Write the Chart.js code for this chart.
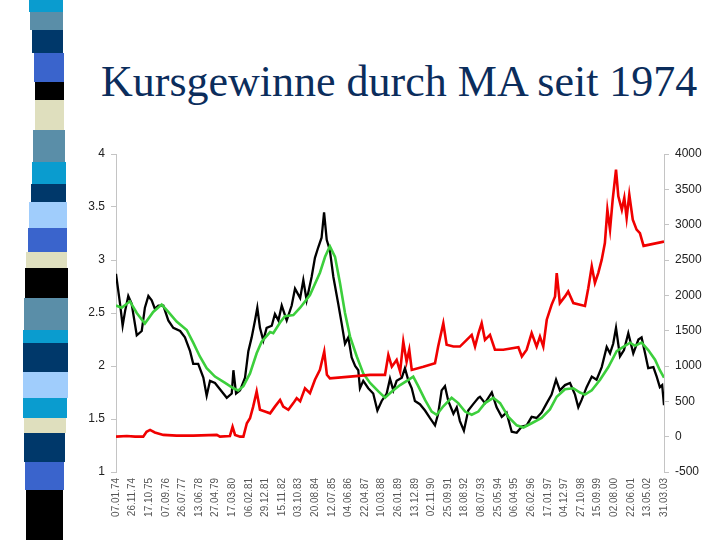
<!DOCTYPE html>
<html>
<head>
<meta charset="utf-8">
<script src="https://cdn.jsdelivr.net/npm/chart.js@4.4.0/dist/chart.umd.min.js"></script>
<style>
  body { margin: 0; background: #fff; width: 720px; height: 540px; overflow: hidden; position: relative; }
  .blk { position: absolute; }
  #title { position: absolute; left: 101px; top: 60px; font-family: "Liberation Serif", "Times New Roman", serif;
           font-size: 44px; line-height: 44px; color: #0b2d5c; white-space: nowrap; }
  #wrap { position: absolute; left: 60px; top: 140px; width: 660px; height: 400px; }
</style>
</head>
<body>
<div id="strip"></div>
<div id="title">Kursgewinne durch MA seit 1974</div>
<div id="wrap"><canvas id="myChart"></canvas></div>
<script>
// x tick labels (dates)
const dateLabels = ['07.01.74','26.11.74','17.10.75','07.09.76','26.07.77','13.06.78','27.04.79','17.03.80',
  '06.02.81','29.12.81','15.11.82','03.10.83','20.08.84','12.07.85','04.06.86','22.04.87','10.03.88',
  '26.01.89','13.12.89','02.11.90','25.09.91','18.08.92','08.07.93','25.05.94','06.04.95','26.02.96',
  '17.01.97','04.12.97','27.10.98','15.09.99','02.08.00','22.06.01','13.05.02','31.03.03'];

// index (left axis) - [position in label steps, value]
const indexLine = [[0,2.87],[0.24,2.59],[0.40,2.38],[0.55,2.52],[0.74,2.66],[0.94,2.59],[1.25,2.29],[1.55,2.33],
  [1.74,2.55],[1.95,2.66],[2.15,2.62],[2.34,2.54],[2.55,2.57],[2.85,2.57],[3.15,2.43],[3.45,2.36],[3.86,2.33],
  [4.15,2.27],[4.46,2.14],[4.65,2.02],[4.95,2.02],[5.26,1.89],[5.46,1.72],[5.66,1.86],[5.96,1.84],[6.26,1.78],
  [6.67,1.70],[6.97,1.74],[7.07,1.96],[7.23,1.74],[7.47,1.77],[7.77,1.89],[7.97,2.14],[8.17,2.27],[8.37,2.43],
  [8.51,2.55],[8.67,2.36],[8.87,2.24],[9.07,2.36],[9.38,2.38],[9.57,2.49],[9.78,2.43],[9.98,2.57],[10.28,2.43],
  [10.58,2.57],[10.78,2.73],[11.09,2.64],[11.28,2.81],[11.48,2.62],[11.78,2.84],[11.98,3.02],[12.18,3.12],
  [12.38,3.21],[12.53,3.45],[12.69,3.19],[12.88,3.09],[13.09,2.84],[13.38,2.59],[13.59,2.40],[13.79,2.21],
  [13.99,2.27],[14.19,2.08],[14.40,2.00],[14.59,1.96],[14.69,1.79],[14.89,1.86],[15.19,1.79],[15.49,1.74],
  [15.74,1.58],[16.00,1.67],[16.30,1.74],[16.50,1.88],[16.70,1.77],[16.90,1.86],[17.21,1.89],[17.40,1.98],
  [17.61,1.86],[17.81,1.79],[18.00,1.67],[18.30,1.64],[18.61,1.58],[18.90,1.51],[19.21,1.44],[19.40,1.55],
  [19.61,1.77],[19.81,1.81],[20.01,1.67],[20.32,1.55],[20.52,1.61],[20.71,1.48],[20.95,1.39],[21.21,1.58],
  [21.51,1.64],[21.82,1.70],[21.92,1.71],[22.22,1.65],[22.63,1.75],[22.92,1.61],[23.23,1.52],[23.52,1.56],
  [23.83,1.38],[24.13,1.37],[24.44,1.43],[24.73,1.44],[25.03,1.52],[25.33,1.51],[25.63,1.56],[25.94,1.65],
  [26.23,1.73],[26.50,1.87],[26.73,1.77],[27.04,1.82],[27.34,1.84],[27.64,1.73],[27.84,1.61],[28.04,1.68],
  [28.34,1.80],[28.65,1.90],[28.94,1.87],[29.25,1.99],[29.55,2.18],[29.75,2.12],[29.94,2.21],[30.11,2.36],
  [30.35,2.09],[30.59,2.15],[30.85,2.31],[31.15,2.12],[31.46,2.25],[31.65,2.27],[31.86,2.12],[32.05,1.98],
  [32.36,1.99],[32.56,1.90],[32.75,1.80],[32.89,1.82],[33,1.63]];

// moving average (left axis)
const maLine = [[0,2.57],[0.34,2.55],[0.84,2.61],[1.25,2.50],[1.74,2.40],[2.24,2.51],[2.75,2.58],[3.15,2.51],
  [3.65,2.42],[4.26,2.34],[4.65,2.22],[5.05,2.09],[5.46,1.98],[5.96,1.90],[6.57,1.84],[7.07,1.79],[7.36,1.77],
  [7.67,1.81],[8.07,1.93],[8.47,2.12],[8.77,2.23],[9.28,2.32],[9.47,2.31],[9.88,2.41],[10.17,2.47],[10.68,2.48],
  [11.09,2.55],[11.68,2.67],[12.28,2.88],[12.59,3.03],[12.88,3.13],[13.19,3.03],[13.49,2.78],[13.79,2.50],
  [14.09,2.28],[14.50,2.09],[14.89,1.93],[15.30,1.84],[15.80,1.76],[16.20,1.70],[16.61,1.76],[17.11,1.82],
  [17.61,1.87],[17.90,1.90],[18.20,1.81],[18.61,1.68],[19.01,1.57],[19.31,1.54],[19.71,1.62],[20.21,1.70],
  [20.61,1.65],[21.02,1.57],[21.42,1.54],[21.82,1.57],[22.22,1.65],[22.72,1.70],[23.13,1.65],[23.63,1.52],
  [24.13,1.44],[24.53,1.42],[25.03,1.46],[25.63,1.51],[26.13,1.59],[26.54,1.71],[27.04,1.78],[27.54,1.79],
  [27.94,1.75],[28.24,1.73],[28.65,1.77],[29.15,1.87],[29.65,1.99],[30.15,2.14],[30.55,2.18],[30.96,2.22],
  [31.25,2.19],[31.65,2.22],[32.05,2.15],[32.46,2.06],[32.75,1.96],[33,1.89]];

// cumulative gain (right axis)
const gainLine = [[0,0],[0.65,10],[1.15,0],[1.64,0],[1.84,70],[2.05,95],[2.34,60],[2.85,25],[3.65,15],[4.65,15],
  [6.07,25],[6.26,0],[6.86,10],[7.02,140],[7.17,25],[7.47,0],[7.67,0],[7.88,190],[8.07,260],[8.26,425],[8.47,640],
  [8.67,380],[8.97,355],[9.28,330],[9.57,425],[9.88,520],[10.07,425],[10.38,380],[10.68,475],[10.88,545],
  [11.09,500],[11.38,685],[11.68,615],[11.98,805],[12.28,945],[12.54,1205],[12.70,875],[12.88,825],[14.09,850],
  [15.30,875],[16.20,875],[16.40,1155],[16.61,990],[16.90,1085],[17.11,920],[17.30,1345],[17.50,1060],
  [17.66,1230],[17.81,945],[18.51,990],[19.21,1040],[19.40,1275],[19.71,1605],[19.91,1300],[20.32,1275],
  [20.71,1275],[21.12,1370],[21.42,1440],[21.62,1275],[21.83,1465],[22.02,1605],[22.22,1370],[22.52,1440],
  [22.82,1230],[23.32,1230],[24.23,1265],[24.44,1135],[24.73,1230],[25.03,1465],[25.33,1275],[25.53,1415],
  [25.73,1275],[25.94,1655],[26.23,1865],[26.44,1985],[26.54,2315],[26.73,1890],[27.04,1985],[27.23,2055],
  [27.54,1890],[28.24,1850],[28.44,2100],[28.65,2410],[28.84,2175],[29.04,2315],[29.25,2505],[29.44,2740],
  [29.59,3210],[29.75,2930],[29.91,3355],[30.11,3780],[30.25,3400],[30.46,3210],[30.61,3380],[30.75,3095],
  [30.91,3425],[31.12,3070],[31.35,2930],[31.55,2880],[31.77,2700],[33,2760]];

// decorative strip on the left: [top, bottom, left, right, colour]
const stripBlocks = [
  [0, 12, 29, 63, '#0a9ccf'], [12, 30, 30, 63, '#5a8ea8'], [30, 53, 32, 63, '#00386a'], [53, 82, 34, 64, '#3a64cc'],
  [82, 100, 35, 64, '#000000'], [100, 130, 35, 64, '#dfdfbe'], [130, 162, 33, 65, '#5a8ea8'], [162, 184, 32, 66, '#0a9ccf'],
  [184, 202, 31, 66, '#00386a'], [202, 228, 29, 67, '#a0cdfc'], [228, 252, 28, 67, '#3a64cc'], [252, 268, 26, 67, '#dfdfbe'],
  [268, 298, 25, 68, '#000000'], [298, 330, 24, 68, '#5a8ea8'], [330, 343, 23, 68, '#0a9ccf'], [343, 372, 23, 68, '#00386a'],
  [372, 398, 23, 68, '#a0cdfc'], [398, 418, 23, 67, '#0a9ccf'], [418, 433, 24, 66, '#dfdfbe'], [433, 462, 24, 65, '#00386a'],
  [462, 490, 25, 64, '#3a64cc'], [490, 540, 26, 63, '#000000']
];

const strip = document.getElementById('strip');
stripBlocks.forEach(b => {
  const d = document.createElement('div');
  d.className = 'blk';
  d.style.top = b[0] + 'px';
  d.style.height = (b[1] - b[0]) + 'px';
  d.style.left = b[2] + 'px';
  d.style.width = (b[3] - b[2]) + 'px';
  d.style.background = b[4];
  strip.appendChild(d);
});

function toPoints(arr) {
  return arr.map(p => ({x: p[0], y: p[1]}));
}

const ctx = document.getElementById('myChart');
const axisGray = '#c4c4c4';
new Chart(ctx, {
  type: 'line',
  data: {
    datasets: [
      {data: toPoints(gainLine), borderColor: '#f00000', borderWidth: 2.6, yAxisID: 'yRight', order: 1},
      {data: toPoints(maLine), borderColor: '#3ccf3c', borderWidth: 2.6, yAxisID: 'yLeft', order: 2},
      {data: toPoints(indexLine), borderColor: '#000000', borderWidth: 2.3, yAxisID: 'yLeft', order: 3}
    ]
  },
  options: {
    animation: false,
    responsive: true,
    maintainAspectRatio: false,
    elements: { point: { radius: 0 }, line: { tension: 0 } },
    layout: { padding: { top: 14, left: 0, right: 0, bottom: 0 } },
    plugins: { legend: { display: false }, tooltip: { enabled: false } },
    scales: {
      x: {
        type: 'linear',
        min: 0,
        max: 33,
        afterFit: function(scale) { scale.height = 68; },
        border: { display: false },
        grid: { display: false, drawTicks: false },
        ticks: {
          stepSize: 1,
          autoSkip: false,
          maxRotation: 90,
          minRotation: 90,
          padding: 6,
          color: '#555',
          font: { family: 'Liberation Sans', size: 10 },
          callback: function(val) { return dateLabels[val]; }
        }
      },
      yLeft: {
        position: 'left',
        min: 1,
        max: 4,
        afterFit: function(scale) { scale.width = 56; },
        border: { display: true, color: axisGray },
        grid: { drawOnChartArea: false, color: axisGray, tickLength: 5 },
        ticks: {
          stepSize: 0.5, padding: 6, color: '#222', font: { family: 'Liberation Sans', size: 12 },
          callback: function(val) { return String(val); }
        }
      },
      yRight: {
        position: 'right',
        min: -500,
        max: 4000,
        afterFit: function(scale) { scale.width = 56; },
        border: { display: true, color: axisGray },
        grid: { drawOnChartArea: false, color: axisGray, tickLength: 5 },
        ticks: {
          stepSize: 500, padding: 6, color: '#222', font: { family: 'Liberation Sans', size: 12 },
          callback: function(val) { return String(val); }
        }
      }
    }
  }
});
</script>
</body>
</html>
